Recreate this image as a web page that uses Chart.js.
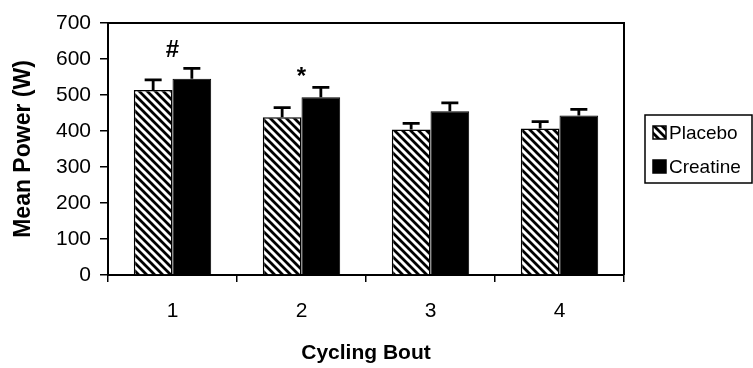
<!DOCTYPE html>
<html>
<head>
<meta charset="utf-8">
<script src="https://cdn.jsdelivr.net/npm/chart.js@4/dist/chart.umd.min.js"></script>
<style>
    html, body { margin: 0; padding: 0; background: #fff; }
    #wrap { width: 753px; height: 368px; }
</style>
</head>
<body>
<div id="wrap"><canvas id="barChart" width="753" height="368"></canvas></div>
<script>
// values
const bouts = ["1", "2", "3", "4"];
const placebo = [514, 438, 404, 407];
const creatine = [545, 494, 455, 443];
const placeboSd = [28, 27, 17, 19];
const creatineSd = [29, 27, 23, 17];
const marks = ["#", "*", "", ""];
const yMax = 700;
const yStep = 100;

const FONT = "'Liberation Sans', Arial, sans-serif";

function hatchPattern() {
    const s = 8;
    const c = document.createElement("canvas");
    c.width = s;
    c.height = s;
    const g = c.getContext("2d");
    g.fillStyle = "#fff";
    g.fillRect(0, 0, s, s);
    g.strokeStyle = "#000";
    g.lineWidth = 2.8;
    g.beginPath();
    g.moveTo(-1, -1); g.lineTo(s + 1, s + 1);
    g.moveTo(-1, s - 1); g.lineTo(1, s + 1);
    g.moveTo(s - 1, -1); g.lineTo(s + 1, 1);
    g.stroke();
    return g.createPattern(c, "repeat");
}
const hatch = hatchPattern();
const sds = [placeboSd, creatineSd];

// error bars above each bar
const errorBars = {
    id: "errorBars",
    afterDatasetsDraw(chart) {
        const ctx = chart.ctx;
        const y = chart.scales.y;
        ctx.save();
        ctx.strokeStyle = "#000";
        ctx.lineWidth = 2.8;
        sds.forEach((sd, i) => {
            chart.getDatasetMeta(i).data.forEach((bar, j) => {
                const v = chart.data.datasets[i].data[j];
                const top = y.getPixelForValue(v + sd[j]);
                ctx.beginPath();
                ctx.moveTo(bar.x, bar.y);
                ctx.lineTo(bar.x, top);
                ctx.moveTo(bar.x - 8.5, top);
                ctx.lineTo(bar.x + 8.5, top);
                ctx.stroke();
            });
        });
        ctx.restore();
    },
};

// significance marks, frame and legend
const extras = {
    id: "extras",
    afterDraw(chart) {
        const ctx = chart.ctx;
        const area = chart.chartArea;
        const x = chart.scales.x;
        const y = chart.scales.y;
        ctx.save();

        ctx.fillStyle = "#000";
        ctx.font = "bold 24px " + FONT;
        ctx.textAlign = "center";
        ctx.textBaseline = "alphabetic";
        marks.forEach((m, j) => {
            if (!m) return;
            const hi = Math.max(placebo[j] + placeboSd[j], creatine[j] + creatineSd[j]);
            const capY = y.getPixelForValue(hi);
            const d = ctx.measureText(m).actualBoundingBoxDescent;
            ctx.fillText(m, x.getPixelForValue(j), capY - 11 - d);
        });

        ctx.strokeStyle = "#000";
        ctx.lineWidth = 2;
        ctx.beginPath();
        ctx.moveTo(area.left, area.top);
        ctx.lineTo(area.right, area.top);
        ctx.lineTo(area.right, area.bottom);
        ctx.stroke();

        const lx = area.right + 21;
        const ly = 115;
        ctx.lineWidth = 1.5;
        ctx.strokeRect(lx, ly, 107, 68);
        ctx.font = "19px " + FONT;
        ctx.textAlign = "left";
        ctx.textBaseline = "middle";
        chart.data.datasets.forEach((ds, i) => {
            const cy = ly + 18 + i * 34;
            ctx.fillStyle = ds.backgroundColor;
            ctx.fillRect(lx + 8, cy - 7, 13, 13);
            ctx.lineWidth = 1.5;
            ctx.strokeRect(lx + 8, cy - 7, 13, 13);
            ctx.fillStyle = "#000";
            ctx.fillText(ds.label, lx + 24, cy + 1);
        });
        ctx.restore();
    },
};

new Chart(document.getElementById("barChart"), {
    type: "bar",
    data: {
        labels: bouts,
        datasets: [
            {
                label: "Placebo",
                data: placebo,
                backgroundColor: hatch,
                borderColor: "#000",
                borderWidth: 1.5,
            },
            {
                label: "Creatine",
                data: creatine,
                backgroundColor: "#000",
                borderColor: "#000",
                borderWidth: 1,
            },
        ],
    },
    plugins: [errorBars, extras],
    options: {
        responsive: false,
        animation: false,
        devicePixelRatio: 1,
        categoryPercentage: 0.6,
        barPercentage: 1,
        layout: { padding: { left: 0, top: 23, right: 129, bottom: 0 } },
        plugins: {
            legend: { display: false },
            tooltip: { enabled: false },
        },
        scales: {
            x: {
                afterFit: (scale) => { scale.height = 93; },
                grid: { drawOnChartArea: false, tickLength: 7, color: "#000", lineWidth: 1.5 },
                border: { display: true, color: "#000", width: 2 },
                ticks: { color: "#000", padding: 17, font: { family: FONT, size: 21 } },
                title: {
                    display: true,
                    text: "Cycling Bout",
                    color: "#000",
                    font: { family: FONT, size: 21, weight: "bold" },
                    padding: { top: 0, bottom: 2 },
                },
            },
            y: {
                min: 0,
                max: yMax,
                afterFit: (scale) => { scale.width = 108; },
                grid: { drawOnChartArea: false, tickLength: 8, color: "#000", lineWidth: 1.5 },
                border: { display: true, color: "#000", width: 2 },
                ticks: { stepSize: yStep, color: "#000", padding: 9, font: { family: FONT, size: 21 } },
                title: {
                    display: true,
                    text: "Mean Power (W)",
                    color: "#000",
                    font: { family: FONT, size: 23, weight: "bold" },
                    padding: { top: 10, bottom: 0 },
                },
            },
        },
    },
});
</script>
</body>
</html>
